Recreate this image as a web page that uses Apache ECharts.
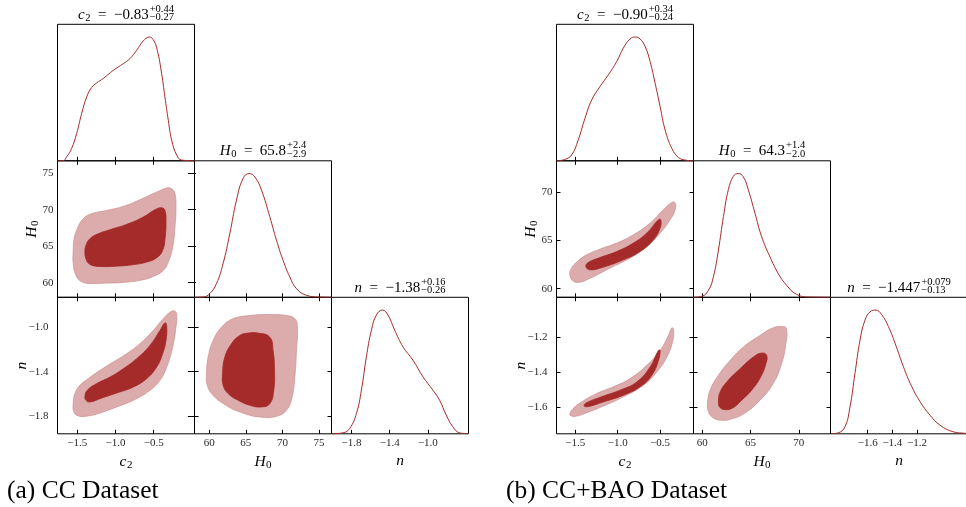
<!DOCTYPE html>
<html><head><meta charset="utf-8">
<script src="https://cdn.jsdelivr.net/npm/echarts@6/dist/echarts.min.js"></script>
<style>html,body{margin:0;padding:0;background:#fff}#c{width:966px;height:507px}</style>
</head><body><div id="c"></div>
<script>
// ================= DATA =================
// ---- (a) CC dataset ----
const ccC2Range = [-1.759, 0.034];
const ccH0Range = [58.0, 76.7];
const ccNRange = [-1.962, -0.727];      // n as vertical axis
const ccNPdfRange = [-2.009, -0.575];   // n on the diagonal panel
const ccC2Ticks = [-1.5, -1.0, -0.5];
const ccH0Ticks = [60, 65, 70, 75];
const ccNTicks = [-1.8, -1.4, -1.0];

const ccC2Pdf = [[-1.757,0],[-1.688,0],[-1.639,0.032],[-1.574,0.10],[-1.508,0.221],[-1.443,0.382],[-1.377,0.516],[-1.312,0.592],[-1.247,0.629],[-1.160,0.665],[-1.029,0.731],[-0.898,0.785],[-0.811,0.826],[-0.723,0.893],[-0.637,0.968],[-0.558,1.0],[-0.506,0.979],[-0.453,0.893],[-0.396,0.705],[-0.353,0.516],[-0.309,0.328],[-0.265,0.167],[-0.199,0.046],[-0.134,0.006],[0.034,0]];
const ccH0Pdf = [[58.0,0],[59.17,0.002],[60.09,0.030],[61.00,0.111],[61.90,0.272],[62.82,0.515],[63.73,0.785],[64.63,0.960],[65.45,1.0],[66.23,0.973],[67.15,0.865],[68.28,0.650],[69.19,0.461],[70.09,0.299],[71.01,0.164],[71.92,0.070],[73.29,0.016],[75.10,0.002],[76.7,0]];
const ccNPdf = [[-2.009,0],[-1.888,0.008],[-1.818,0.044],[-1.748,0.165],[-1.696,0.353],[-1.644,0.622],[-1.591,0.838],[-1.539,0.960],[-1.476,1.0],[-1.418,0.960],[-1.348,0.838],[-1.261,0.703],[-1.157,0.596],[-1.052,0.461],[-0.948,0.353],[-0.878,0.272],[-0.808,0.151],[-0.739,0.057],[-0.669,0.008],[-0.575,0]];

const ccC2H0Outer = [[-1.553,64.42],[-1.544,65.79],[-1.500,67.40],[-1.422,68.77],[-1.312,69.45],[-1.116,69.90],[-0.898,70.45],[-0.680,71.37],[-0.461,72.41],[-0.330,72.96],[-0.265,72.88],[-0.222,72.19],[-0.209,70.36],[-0.222,67.62],[-0.252,64.88],[-0.309,62.82],[-0.375,61.68],[-0.506,60.86],[-0.680,60.32],[-0.898,60.04],[-1.116,59.95],[-1.334,59.90],[-1.443,60.14],[-1.517,61.0],[-1.553,62.60]];
const ccC2H0Inner = [[-1.400,64.19],[-1.387,65.11],[-1.334,66.03],[-1.226,66.71],[-1.072,67.26],[-0.854,67.99],[-0.637,68.99],[-0.483,70.0],[-0.396,70.27],[-0.353,69.90],[-0.339,68.53],[-0.349,66.25],[-0.383,64.42],[-0.461,63.42],[-0.592,62.82],[-0.767,62.47],[-0.985,62.27],[-1.203,62.23],[-1.334,62.51],[-1.387,63.29]];
const ccC2NOuter = [[-1.553,-1.689],[-1.531,-1.599],[-1.465,-1.523],[-1.356,-1.463],[-1.203,-1.388],[-1.029,-1.313],[-0.854,-1.237],[-0.680,-1.147],[-0.506,-1.027],[-0.375,-0.921],[-0.287,-0.862],[-0.222,-0.853],[-0.199,-0.892],[-0.209,-0.997],[-0.252,-1.178],[-0.330,-1.358],[-0.418,-1.478],[-0.549,-1.569],[-0.767,-1.659],[-0.985,-1.719],[-1.203,-1.773],[-1.356,-1.800],[-1.487,-1.800],[-1.544,-1.764]];
const ccC2NInner = [[-1.400,-1.623],[-1.370,-1.569],[-1.247,-1.508],[-1.072,-1.449],[-0.898,-1.373],[-0.723,-1.282],[-0.549,-1.162],[-0.418,-1.027],[-0.353,-0.958],[-0.330,-0.982],[-0.339,-1.117],[-0.383,-1.237],[-0.461,-1.358],[-0.592,-1.463],[-0.767,-1.539],[-0.985,-1.593],[-1.203,-1.644],[-1.334,-1.674],[-1.387,-1.659]];
const ccH0NOuter = [[59.65,-1.418],[59.86,-1.268],[60.55,-1.117],[61.69,-0.997],[63.27,-0.921],[65.55,-0.892],[68.28,-0.883],[70.55,-0.892],[71.69,-0.921],[72.05,-0.997],[71.92,-1.208],[71.69,-1.449],[71.32,-1.629],[70.55,-1.749],[69.19,-1.803],[66.91,-1.810],[64.19,-1.764],[61.91,-1.688],[60.33,-1.598],[59.69,-1.508]];
const ccH0NInner = [[61.83,-1.418],[62.14,-1.268],[63.05,-1.147],[64.19,-1.072],[65.32,-1.051],[66.68,-1.051],[68.28,-1.088],[68.73,-1.208],[68.92,-1.388],[68.82,-1.569],[68.28,-1.689],[67.15,-1.719],[65.55,-1.704],[63.95,-1.659],[62.59,-1.598],[61.91,-1.523]];

// ---- (b) CC+BAO dataset ----
const baoC2Range = [-1.72, -0.107];
const baoH0Range = [59.1, 73.28];
const baoNRange = [-1.75, -0.971];
const baoNPdfRange = [-1.901, -0.792];
const baoC2Ticks = [-1.5, -1.0, -0.5];
const baoH0Ticks = [60, 65, 70];
const baoNTicks = [-1.6, -1.4, -1.2];

const baoC2Pdf = [[-1.720,0],[-1.622,0.011],[-1.543,0.046],[-1.465,0.167],[-1.385,0.343],[-1.306,0.491],[-1.208,0.600],[-1.110,0.694],[-1.011,0.802],[-0.933,0.911],[-0.854,0.984],[-0.795,1.0],[-0.736,0.984],[-0.677,0.924],[-0.618,0.802],[-0.559,0.627],[-0.500,0.438],[-0.441,0.249],[-0.362,0.100],[-0.284,0.027],[-0.205,0.006],[-0.107,0]];
const baoH0Pdf = [[59.10,0],[59.97,0.008],[60.65,0.057],[61.16,0.165],[61.68,0.382],[62.20,0.653],[62.71,0.870],[63.23,0.978],[63.74,1.0],[64.26,0.973],[64.77,0.870],[65.46,0.680],[66.15,0.490],[67.01,0.328],[67.87,0.192],[68.73,0.098],[69.76,0.024],[71.13,0.002],[73.27,0]];
const baoNPdf = [[-1.900,0],[-1.838,0.008],[-1.784,0.057],[-1.743,0.218],[-1.703,0.488],[-1.662,0.757],[-1.622,0.918],[-1.581,0.985],[-1.533,1.0],[-1.487,0.963],[-1.433,0.868],[-1.379,0.734],[-1.312,0.545],[-1.244,0.383],[-1.177,0.261],[-1.096,0.151],[-1.015,0.070],[-0.907,0.016],[-0.804,0.003],[-0.790,0]];

const baoC2H0Outer = [[-1.563,61.43],[-1.543,62.13],[-1.476,62.81],[-1.365,63.51],[-1.208,64.10],[-1.011,64.73],[-0.815,65.59],[-0.618,66.81],[-0.461,68.20],[-0.362,68.96],[-0.323,68.90],[-0.323,68.20],[-0.382,67.16],[-0.500,65.77],[-0.657,64.38],[-0.854,63.17],[-1.090,62.13],[-1.326,61.08],[-1.445,60.67],[-1.524,60.80]];
const baoC2H0Inner = [[-1.374,62.29],[-1.347,62.71],[-1.208,63.23],[-1.011,63.85],[-0.815,64.73],[-0.657,65.77],[-0.520,67.16],[-0.492,67.16],[-0.500,66.29],[-0.579,65.07],[-0.736,63.85],[-0.933,62.99],[-1.169,62.23],[-1.326,61.95]];
const baoC2NOuter = [[-1.563,-1.638],[-1.524,-1.605],[-1.424,-1.568],[-1.247,-1.520],[-1.051,-1.482],[-0.854,-1.435],[-0.657,-1.359],[-0.500,-1.274],[-0.402,-1.189],[-0.362,-1.145],[-0.343,-1.156],[-0.350,-1.217],[-0.421,-1.312],[-0.539,-1.397],[-0.697,-1.473],[-0.933,-1.539],[-1.169,-1.592],[-1.365,-1.630],[-1.483,-1.649],[-1.543,-1.649]];
const baoC2NInner = [[-1.397,-1.586],[-1.347,-1.568],[-1.169,-1.535],[-0.972,-1.501],[-0.775,-1.454],[-0.618,-1.369],[-0.520,-1.274],[-0.500,-1.274],[-0.520,-1.331],[-0.598,-1.416],[-0.736,-1.482],[-0.933,-1.530],[-1.169,-1.568],[-1.365,-1.596]];
const baoH0NOuter = [[60.55,-1.577],[60.82,-1.501],[61.68,-1.416],[62.89,-1.331],[64.26,-1.255],[65.98,-1.189],[67.35,-1.145],[68.38,-1.138],[68.73,-1.151],[68.66,-1.236],[68.22,-1.349],[67.35,-1.463],[65.98,-1.558],[64.61,-1.624],[63.23,-1.662],[61.86,-1.672],[61.00,-1.653],[60.62,-1.619]];
const baoH0NInner = [[61.68,-1.568],[61.86,-1.511],[62.55,-1.454],[63.74,-1.388],[65.29,-1.312],[66.15,-1.289],[66.67,-1.302],[66.60,-1.349],[66.05,-1.426],[65.12,-1.501],[64.09,-1.558],[63.06,-1.605],[62.20,-1.611],[61.79,-1.596]];

// ---- titles (value, upper error, lower error) ----
const ccTitleC2 = ['\u22120.83', '+0.44', '\u22120.27'];
const ccTitleH0 = ['65.8', '+2.4', '\u22122.9'];
const ccTitleN = ['\u22121.38', '+0.16', '\u22120.26'];
const baoTitleC2 = ['\u22120.90', '+0.34', '\u22120.24'];
const baoTitleH0 = ['64.3', '+1.4', '\u22122.0'];
const baoTitleN = ['\u22121.447', '+0.079', '\u22120.13'];
const captions = ['(a) CC Dataset', '(b) CC+BAO Dataset'];

// ================= LAYOUT / STYLE =================
const FONT = '"Liberation Serif", "Times New Roman", serif';
const CELL_W = 137, CELL_H = 136.5, TOP = 24.3;
const RED = '#a52a2a', LIGHT = '#dcabab', LIGHT_EDGE = '#d09496';
const PDF_MAX = 1.103;

const grids = [], xAxes = [], yAxes = [], series = [], graphics = [];

function fmt(dec) {
  return v => (v < 0 ? '\u2212' : '') + Math.abs(v).toFixed(dec);
}
function valAxis(gi, pos, range, ticks, dec, labels, margin) {
  return {
    type: 'value', gridIndex: gi, position: pos, min: range[0], max: range[1],
    axisLine: { show: false }, splitLine: { show: false },
    axisTick: { show: !!ticks, inside: true, length: 4, lineStyle: { color: '#000', width: 1 }, customValues: ticks || [] },
    axisLabel: { show: !!labels, customValues: ticks || [], formatter: fmt(dec), margin: margin || 4,
      fontFamily: FONT, fontSize: 11, color: '#2a2a2a' }
  };
}
function addGrid(left, top) {
  grids.push({ left: left, top: top, width: CELL_W, height: CELL_H, show: true,
    borderColor: '#000', borderWidth: 1, backgroundColor: 'rgba(0,0,0,0)', containLabel: false, outerBoundsMode: 'none' });
  return grids.length - 1;
}
function diagPanel(left, top, range, ticks, dec, labels, pdf) {
  const gi = addGrid(left, top);
  const xi = xAxes.length; xAxes.push(valAxis(gi, 'bottom', range, ticks, dec, labels));
  const yi = yAxes.length; yAxes.push({ type: 'value', gridIndex: gi, min: 0, max: PDF_MAX, show: false });
  series.push({ type: 'line', xAxisIndex: xi, yAxisIndex: yi, data: pdf, smooth: 0.45,
    symbol: 'none', showSymbol: false, silent: true, lineStyle: { color: RED, width: 1 } });
}
function polySeries(xi, yi, pts, fill, stroke, z) {
  return { type: 'custom', xAxisIndex: xi, yAxisIndex: yi, data: pts, encode: { x: 0, y: 1 }, z: z, silent: true,
    renderItem: function (params, api) {
      if (params.dataIndex !== 0) return null;
      const p = pts.map(q => api.coord(q));
      return { type: 'polygon', shape: { points: p, smooth: 0.45 },
        style: { fill: fill, stroke: stroke, lineWidth: 0.8 } };
    } };
}
function pairPanel(left, top, xr, yr, xt, yt, xdec, ydec, xLab, yLab, yMargin, outer, inner) {
  const gi = addGrid(left, top);
  const xi = xAxes.length;
  xAxes.push(valAxis(gi, 'bottom', xr, xt, xdec, xLab));
  xAxes.push(valAxis(gi, 'top', xr, xt, xdec, false));
  const yi = yAxes.length;
  yAxes.push(valAxis(gi, 'left', yr, yt, ydec, yLab, yMargin));
  yAxes.push(valAxis(gi, 'right', yr, yt, ydec, false));
  series.push(polySeries(xi, yi, outer, LIGHT, LIGHT_EDGE, 2));
  series.push(polySeries(xi, yi, inner, RED, RED, 3));
}

// ---- math-ish text helpers ----
const mctx = document.createElement('canvas').getContext('2d');
function fontStr(size, italic) { return (italic ? 'italic ' : '') + size + 'px ' + FONT; }
function tw(t, size, italic) { mctx.font = fontStr(size, italic); return mctx.measureText(t).width; }
function txt(t, x, y, size, italic) {
  return { type: 'text', x: x, y: y, silent: true,
    style: { text: t, font: fontStr(size, italic), fill: '#000', textAlign: 'left', textVerticalAlign: 'middle', align: 'left', verticalAlign: 'middle' } };
}
// parts: {t,size,italic,dy,gap} or {up,dn,size,dyUp,dyDn}
function mathRow(parts, cx, cy, rotation) {
  let w = 0;
  const widths = parts.map(p => {
    const ww = p.up !== undefined ? Math.max(tw(p.up, p.size), tw(p.dn, p.size)) : tw(p.t, p.size, p.italic);
    return ww + (p.gap || 0);
  });
  widths.forEach(v => w += v);
  let x = -w / 2;
  const children = [];
  parts.forEach((p, i) => {
    if (p.up !== undefined) {
      children.push(txt(p.up, x, p.dyUp, p.size, false));
      children.push(txt(p.dn, x, p.dyDn, p.size, false));
    } else {
      children.push(txt(p.t, x, p.dy || 0, p.size, p.italic));
    }
    x += widths[i];
  });
  graphics.push({ type: 'group', x: cx, y: cy, rotation: rotation || 0, children: children });
}
function symParts(sym, sub, size, subSize) {
  const a = [{ t: sym, size: size, italic: true, gap: sub ? 0.5 : 0 }];
  if (sub) a.push({ t: sub, size: subSize, dy: size * 0.22 });
  return a;
}
function title(sym, sub, vals, cx, panelTop) {
  const parts = symParts(sym, sub, 15, 10.5)
    .concat([{ t: '  =  ', size: 15 }, { t: vals[0], size: 15, gap: 1 },
             { up: vals[1], dn: vals[2], size: 10.5, dyUp: -5.8, dyDn: 2.8 }]);
  mathRow(parts, cx, panelTop - 9.6);
}
function axisName(sym, sub, cx, cy, rot) {
  mathRow(symParts(sym, sub, 15.5, 11), cx, cy, rot);
}

// ---- build one corner plot ----
function buildPlot(X0, d) {
  const cx = k => X0 + CELL_W * (k + 0.5);
  const L = k => X0 + CELL_W * k;
  const T = k => TOP + CELL_H * k;
  diagPanel(L(0), T(0), d.c2R, d.c2T, 1, false, d.c2Pdf);
  diagPanel(L(1), T(1), d.h0R, d.h0T, 0, false, d.h0Pdf);
  diagPanel(L(2), T(2), d.nPdfR, d.nT, 1, true, d.nPdf);
  pairPanel(L(0), T(1), d.c2R, d.h0R, d.c2T, d.h0T, 1, 0, false, true, 4, d.c2h0[0], d.c2h0[1]);
  pairPanel(L(0), T(2), d.c2R, d.nR, d.c2T, d.nT, 1, 1, true, true, 9, d.c2n[0], d.c2n[1]);
  pairPanel(L(1), T(2), d.h0R, d.nR, d.h0T, d.nT, 0, 1, true, false, 4, d.h0n[0], d.h0n[1]);
  title('c', '2', d.tC2, cx(0), T(0));
  title('H', '0', d.tH0, cx(1), T(1));
  title('n', null, d.tN, cx(2), T(2));
  axisName('c', '2', cx(0), 461.5, 0);
  axisName('H', '0', cx(1), 461.5, 0);
  axisName('n', null, cx(2), 460.5, 0);
  axisName('H', '0', X0 - d.yNameH, TOP + CELL_H * 1.5, Math.PI / 2);
  axisName('n', null, X0 - d.yNameN, TOP + CELL_H * 2.5, Math.PI / 2);
  graphics.push({ type: 'text', x: d.capX, y: 491.5, silent: true,
    style: { text: d.cap, font: fontStr(25.5, false), fill: '#000', textAlign: 'left', textVerticalAlign: 'middle', align: 'left', verticalAlign: 'middle' } });
}

buildPlot(57.5, {
  c2R: ccC2Range, h0R: ccH0Range, nR: ccNRange, nPdfR: ccNPdfRange,
  c2T: ccC2Ticks, h0T: ccH0Ticks, nT: ccNTicks,
  c2Pdf: ccC2Pdf, h0Pdf: ccH0Pdf, nPdf: ccNPdf,
  c2h0: [ccC2H0Outer, ccC2H0Inner], c2n: [ccC2NOuter, ccC2NInner], h0n: [ccH0NOuter, ccH0NInner],
  tC2: ccTitleC2, tH0: ccTitleH0, tN: ccTitleN, cap: captions[0], capX: 7, yNameH: 26, yNameN: 36
});
buildPlot(556.5, {
  c2R: baoC2Range, h0R: baoH0Range, nR: baoNRange, nPdfR: baoNPdfRange,
  c2T: baoC2Ticks, h0T: baoH0Ticks, nT: baoNTicks,
  c2Pdf: baoC2Pdf, h0Pdf: baoH0Pdf, nPdf: baoNPdf,
  c2h0: [baoC2H0Outer, baoC2H0Inner], c2n: [baoC2NOuter, baoC2NInner], h0n: [baoH0NOuter, baoH0NInner],
  tC2: baoTitleC2, tH0: baoTitleH0, tN: baoTitleN, cap: captions[1], capX: 506, yNameH: 25.5, yNameN: 36
});

const chart = echarts.init(document.getElementById('c'), null, { renderer: 'canvas' });
chart.setOption({
  animation: false,
  backgroundColor: '#fff',
  grid: grids, xAxis: xAxes, yAxis: yAxes, series: series, graphic: graphics
});
</script>
</body></html>
